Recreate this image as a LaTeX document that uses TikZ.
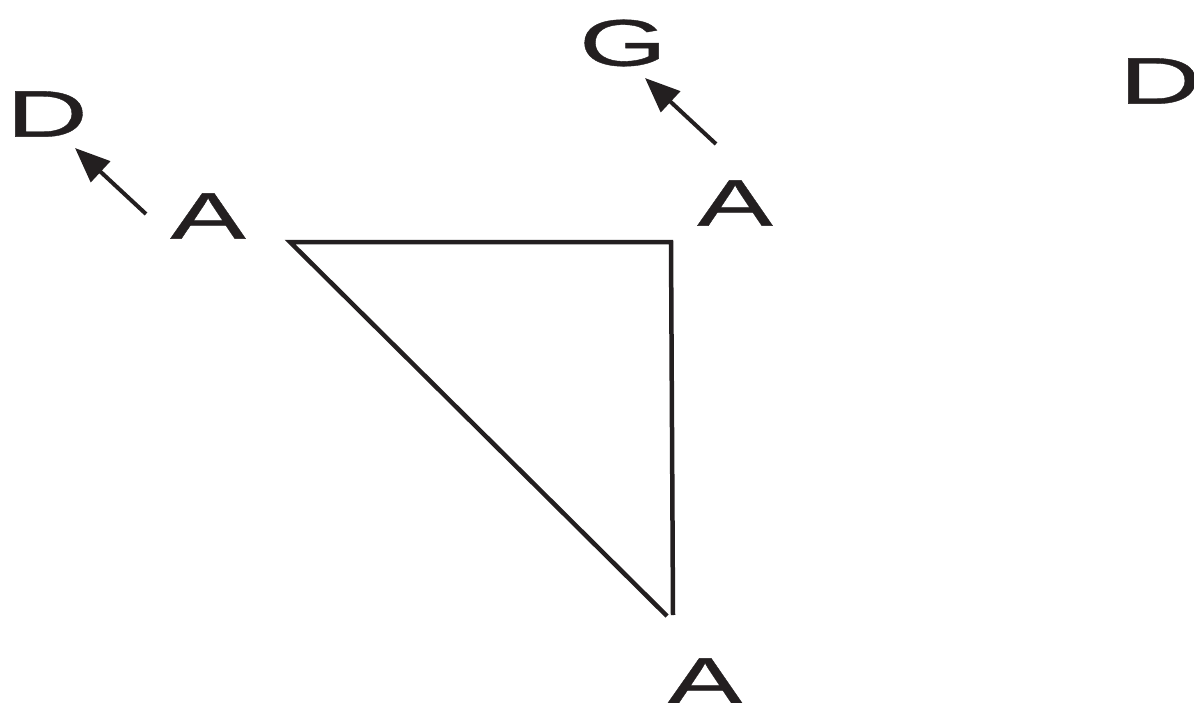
\documentclass[tikz,border=0pt]{standalone}
\usepackage{fontspec}
\newfontfamily\widefont[FakeStretch=1.72,FakeBold=0.6]{Liberation Sans}
\usetikzlibrary{arrows.meta}
\definecolor{ink}{HTML}{231F20}
\begin{document}
\begin{tikzpicture}[x=0.02cm,y=-0.02cm,
  lbl/.style={inner sep=0pt,text=ink,font=\widefont\fontsize{37.5}{40}\selectfont},
  edge/.style={draw=ink,line width=0.09cm},
  arr/.style={draw=ink,line width=0.08cm,-{Triangle[length=0.7cm,width=0.56cm]}}]
\useasboundingbox (0,0) rectangle (1194,703);
\node[lbl] (d1) at (47,114) {D};
\node[lbl] (a1) at (208,216) {A};
\node[lbl] (g) at (623,43) {G};
\node[lbl] (a2) at (735,203) {A};
\node[lbl] (d2) at (1160,81) {D};
\node[lbl] (a3) at (705,681) {A};
\coordinate (s1) at (146,214);
\coordinate (t1) at (75,148);
\coordinate (s2) at (716,144);
\coordinate (t2) at (645,78);
\coordinate (p1) at (290,242);
\coordinate (p2) at (671,242);
\coordinate (p3) at (667,616);
\coordinate (p4) at (673,615);
\draw[arr] (s1) -- (t1);
\draw[arr] (s2) -- (t2);
\draw[edge] (p3) -- (p1) -- (p2) -- (p4);
\end{tikzpicture}
\end{document}
